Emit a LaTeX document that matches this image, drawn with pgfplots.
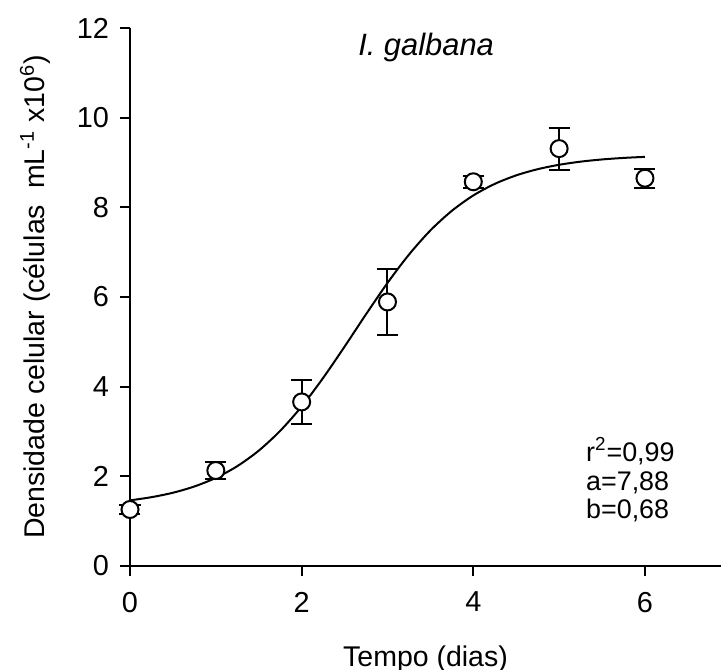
\documentclass[border=0pt]{standalone}
\usepackage{fontspec}
\setmainfont{Liberation Sans}
\usepackage{pgfplots}
\usepackage{pgfplotstable}
\pgfplotsset{compat=1.18}

% Mean cell density (x10^6 cells/mL) and standard deviation per day
\pgfplotstableread{
day dens err
0 1.26 0.10
1 2.13 0.18
2 3.66 0.49
3 5.89 0.74
4 8.57 0.13
5 9.31 0.47
6 8.65 0.21
}\galbana

% Fitted sigmoid growth curve (a = 7.88, b = 0.68)
\pgfplotstableread{
day fit
0.00 1.464
0.25 1.535
0.50 1.634
0.75 1.774
1.00 1.966
1.25 2.227
1.50 2.573
1.75 3.015
2.00 3.558
2.25 4.194
2.50 4.893
2.75 5.615
3.00 6.313
3.25 6.945
3.50 7.485
3.75 7.922
4.00 8.265
4.25 8.523
4.50 8.713
4.75 8.851
5.00 8.949
5.25 9.019
5.50 9.068
5.75 9.102
6.00 9.126
}\galbanafit

\begin{document}
\begin{tikzpicture}
\useasboundingbox (-65bp,-52bp) rectangle (295.5bp,283bp);
\begin{axis}[
  at={(0,0)}, anchor=south west,
  scale only axis,
  width=295.5bp, height=269bp,
  xmin=0, xmax=6.886, ymin=0, ymax=12,
  axis lines*=left,
  axis line style={line width=1.3bp, black},
  xtick={0,2,4,6},
  ytick={0,2,4,6,8,10,12},
  tick align=outside,
  major tick length=5bp,
  tick style={line width=1.1bp, black},
  /pgf/number format/assume math mode=true,
  ticklabel style={font=\fontsize{14.5}{14.5}\selectfont},
  xticklabel style={yshift=-4.5bp},
  yticklabel style={xshift=-2bp},
  xlabel={Tempo (dias)},
  ylabel={Densidade celular (células\ \ mL\textsuperscript{-1} x10\textsuperscript{6})},
  label style={font=\fontsize{14.3}{14.3}\selectfont},
  xlabel style={at={(axis description cs:0.5,-0.1729)}, anchor=center},
  ylabel style={at={(axis description cs:-0.1607,0.5)}, anchor=center},
  clip=false,
]
\addplot[
  only marks, mark=*,
  mark size=4.25bp,
  mark options={fill=white, draw=black, line width=1bp},
  error bars/.cd, y dir=both, y explicit,
  error bar style={line width=1bp, black},
  error mark options={rotate=90, mark size=5.25bp, line width=1bp, black},
] table[x=day, y=dens, y error=err] {\galbana};

\addplot[black, line width=1bp, smooth, no marks] table[x=day, y=fit] {\galbanafit};

\node[font=\fontsize{15.5}{15.5}\selectfont\itshape] at (axis cs:3.45,11.57) {I. galbana};
\node[anchor=base west, inner sep=0pt, font=\fontsize{13.5}{13.5}\selectfont] at (axis cs:5.31,2.34) {r\textsuperscript{2}=0,99};
\node[anchor=base west, inner sep=0pt, font=\fontsize{13.5}{13.5}\selectfont] at (axis cs:5.31,1.68) {a=7,88};
\node[anchor=base west, inner sep=0pt, font=\fontsize{13.5}{13.5}\selectfont] at (axis cs:5.31,1.05) {b=0,68};
\end{axis}
\end{tikzpicture}
\end{document}
